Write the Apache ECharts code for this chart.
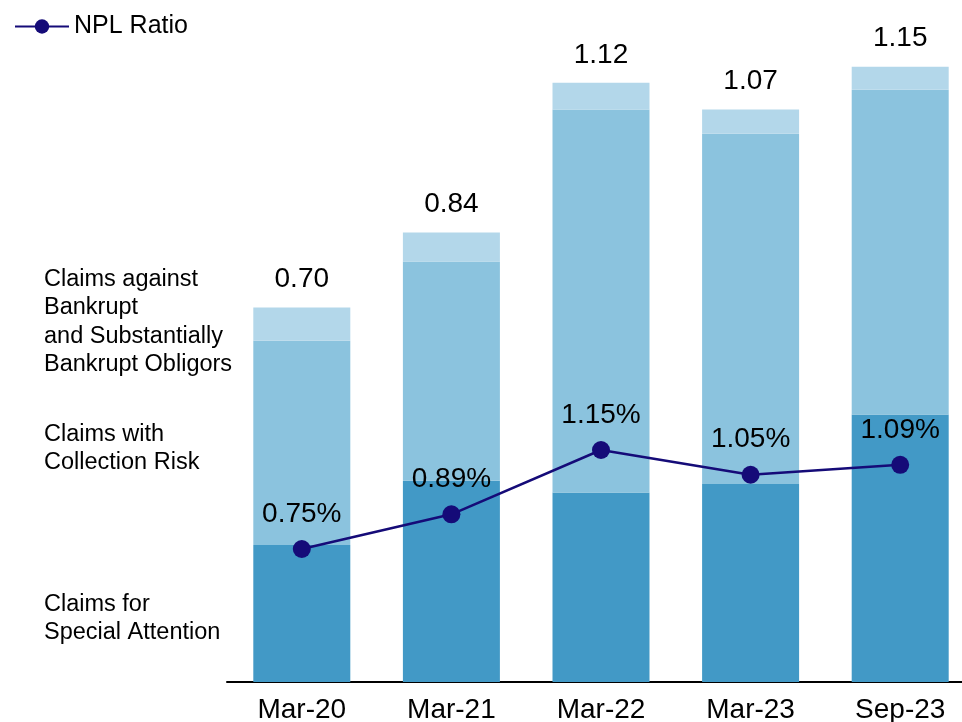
<!DOCTYPE html>
<html>
<head>
<meta charset="utf-8">
<script src="https://cdn.jsdelivr.net/npm/echarts@6/dist/echarts.min.js"></script>
<style>
  html, body { margin: 0; padding: 0; background: #ffffff; }
  #chart { width: 962px; height: 722px; }
</style>
</head>
<body>
<div id="chart"></div>
<script>
// Period labels
const periods = ['Mar-20', 'Mar-21', 'Mar-22', 'Mar-23', 'Sep-23'];
// Non-performing loan balances by category (stacked)
const specialAttention = [0.256, 0.376, 0.354, 0.370, 0.500];
const collectionRisk   = [0.382, 0.410, 0.716, 0.655, 0.607];
const bankruptObligors = [0.062, 0.054, 0.050, 0.045, 0.043];
// Totals shown above each bar
const totals = [0.70, 0.84, 1.12, 1.07, 1.15];
// NPL ratio (%)
const nplRatio = [0.75, 0.89, 1.15, 1.05, 1.09];

const FONT = '"Liberation Sans", Arial, sans-serif';

const chart = echarts.init(document.getElementById('chart'), null, { renderer: 'canvas' });

chart.setOption({
  animation: false,
  backgroundColor: '#ffffff',
  textStyle: { fontFamily: FONT },
  legend: {
    data: ['NPL Ratio'],
    left: 9,
    top: 9,
    itemWidth: 54,
    itemHeight: 18,
    itemGap: 5,
    textStyle: { fontFamily: FONT, fontSize: 25, color: '#000000' }
  },
  // The plot area runs past the right edge of the canvas
  grid: { left: 227, width: 748, top: 40, height: 642, outerBoundsMode: 'none' },
  xAxis: {
    type: 'category',
    data: periods,
    axisLine: { lineStyle: { color: '#000000', width: 2 } },
    axisTick: { show: false },
    axisLabel: { fontFamily: FONT, fontSize: 28, color: '#000000', margin: 14 }
  },
  yAxis: [
    { type: 'value', min: 0, max: 1.2, show: false, splitLine: { show: false } },
    { type: 'value', min: 0.2126, max: 2.8065, show: false, splitLine: { show: false } }
  ],
  graphic: [
    {
      type: 'text', left: 44, top: 265,
      style: {
        text: 'Claims against\nBankrupt\nand Substantially\nBankrupt Obligors',
        font: '23.5px ' + FONT, lineHeight: 28.5, fill: '#000000'
      }
    },
    {
      type: 'text', left: 44, top: 420,
      style: {
        text: 'Claims with\nCollection Risk',
        font: '23.5px ' + FONT, lineHeight: 28.5, fill: '#000000'
      }
    },
    {
      type: 'text', left: 44, top: 590,
      style: {
        text: 'Claims for\nSpecial Attention',
        font: '23.5px ' + FONT, lineHeight: 28.5, fill: '#000000'
      }
    }
  ],
  series: [
    {
      name: 'Claims for Special Attention',
      type: 'bar', stack: 'npl', barWidth: 97,
      itemStyle: { color: '#4299C6' },
      data: specialAttention
    },
    {
      name: 'Claims with Collection Risk',
      type: 'bar', stack: 'npl', barWidth: 97,
      itemStyle: { color: '#8BC3DE' },
      data: collectionRisk
    },
    {
      name: 'Claims against Bankrupt and Substantially Bankrupt Obligors',
      type: 'bar', stack: 'npl', barWidth: 97,
      itemStyle: { color: '#B3D7EA' },
      label: {
        show: true, position: 'top', distance: 14,
        fontFamily: FONT, fontSize: 28, color: '#000000',
        formatter: p => totals[p.dataIndex].toFixed(2)
      },
      data: bankruptObligors
    },
    {
      name: 'NPL Ratio',
      type: 'line', yAxisIndex: 1,
      symbol: 'circle', symbolSize: 18,
      lineStyle: { color: '#150B78', width: 2.5 },
      itemStyle: { color: '#150B78' },
      label: {
        show: true, position: 'top', distance: 12,
        fontFamily: FONT, fontSize: 28, color: '#000000',
        formatter: p => p.value.toFixed(2) + '%'
      },
      z: 5,
      data: nplRatio
    }
  ]
});
</script>
</body>
</html>
